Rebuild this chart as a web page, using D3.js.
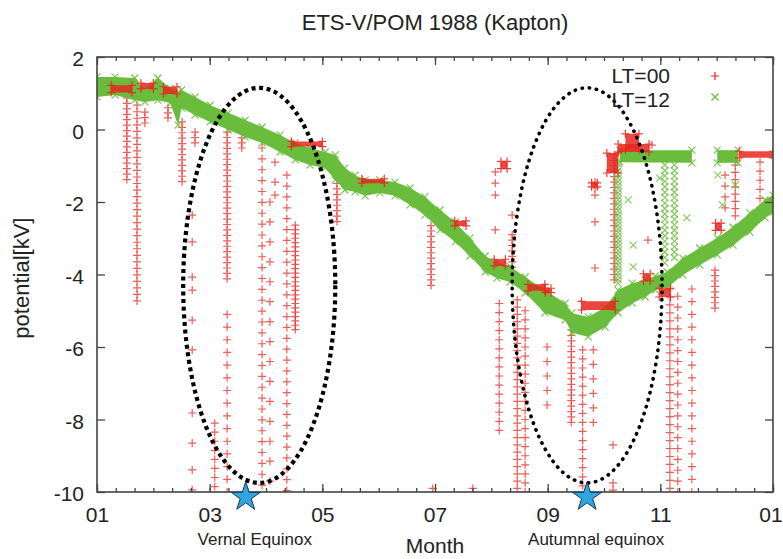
<!DOCTYPE html>
<html>
<head>
<meta charset="utf-8">
<script src="https://cdn.jsdelivr.net/npm/d3@7"></script>
<style>
body { margin: 0; background: #fff; }
svg { display: block; font-family: "Liberation Sans", Arial, sans-serif; }
</style>
</head>
<body>
<div id="plot"></div>
<script>
// Axis ticks and labels.
const monthTicks = [0, 2, 4, 6, 8, 10, 12];
const monthLabels = ["01", "03", "05", "07", "09", "11", "01"];
const potentialTicks = [2, 0, -2, -4, -6, -8, -10];

// LT=12 main band: [month, upper kV, lower kV].
const noonBand = [
    [0.00, 1.45, 0.90], [0.32, 1.45, 0.95], [0.67, 1.42, 0.81], [0.85, 1.09, 0.76],
    [1.08, 1.42, 0.81], [1.30, 1.14, 0.73], [1.44, 1.03, 0.12], [1.50, 1.09, 0.59],
    [1.74, 0.90, 0.40], [2.01, 0.67, 0.21], [2.33, 0.46, -0.01], [2.63, 0.26, -0.21],
    [2.93, 0.07, -0.37], [3.25, -0.15, -0.62], [3.52, -0.37, -0.84], [3.78, -0.51, -0.98],
    [4.05, -0.62, -1.06], [4.23, -0.70, -1.39], [4.40, -1.06, -1.67], [4.58, -1.26, -1.72],
    [4.76, -1.39, -1.83], [5.02, -1.39, -1.75], [5.29, -1.45, -1.83], [5.56, -1.61, -2.08],
    [5.82, -1.86, -2.36], [6.09, -2.22, -2.77], [6.36, -2.55, -3.10], [6.62, -2.99, -3.49],
    [6.89, -3.49, -3.93], [7.10, -3.66, -4.10], [7.33, -3.77, -4.21], [7.60, -4.07, -4.51],
    [7.95, -4.43, -5.06], [8.31, -4.79, -5.26], [8.43, -5.06, -5.61], [8.72, -5.17, -5.72],
    [9.02, -4.90, -5.45], [9.25, -4.43, -5.06], [9.50, -4.24, -4.79], [9.73, -4.15, -4.62],
    [9.91, -4.04, -4.43], [10.12, -3.93, -4.37], [10.40, -3.55, -4.01], [10.70, -3.27, -3.74],
    [11.01, -2.99, -3.46], [11.29, -2.69, -3.19], [11.59, -2.30, -2.83], [11.86, -1.94, -2.44],
    [12.00, -1.81, -2.28]
];

// LT=12 upper branches in Oct / Nov.
const noonUpperOct = [[9.28, -0.57, -0.90], [10.56, -0.57, -0.92]];
const noonUpperNov = [[11.01, -0.57, -0.92], [11.38, -0.57, -0.92]];

// LT=12 vertical runs: [month, top kV, bottom kV, sample gap kV].
const noonColumns = [
    [9.25, -0.84, -4.29, 0.10],
    [10.08, -0.98, -3.74, 0.15],
    [10.25, -0.98, -3.60, 0.15]
];

// LT=12 isolated samples: [month, kV].
const noonPoints = [
    [9.52, -3.19], [9.52, -3.79], [9.99, -1.34], [10.47, -2.44],
    [11.02, -1.26], [11.10, -2.08], [11.33, -1.53], [9.43, -1.94]
];

// LT=00 vertical runs: [month, top kV, bottom kV, sample gap kV].
const midnightColumns = [
    [0.53, 0.87, -1.48, 0.15], [0.71, 0.67, -4.80, 0.18], [0.85, 0.48, 0.05, 0.15],
    [1.26, 0.60, 0.32, 0.14], [1.51, 0.21, -1.45, 0.15], [1.74, -0.07, -0.51, 0.15],
    [2.09, -8.10, -10.0, 0.25], [2.31, -0.07, -4.20, 0.15], [2.31, -5.10, -10.0, 0.35],
    [2.57, -0.23, -0.51, 0.14], [2.93, -0.51, -10.0, 0.30], [3.07, -2.00, -10.0, 0.55],
    [3.37, -1.26, -10.0, 0.30], [3.52, -2.64, -5.60, 0.12], [4.26, -1.34, -2.62, 0.15],
    [5.93, -2.65, -4.36, 0.15], [7.37, -2.90, -3.82, 0.15], [7.14, -4.80, -8.30, 0.25],
    [7.46, -4.70, -10.0, 0.20], [7.60, -5.00, -10.0, 0.25], [7.99, -6.00, -7.93, 0.40],
    [8.42, -5.53, -8.10, 0.15], [8.62, -6.08, -10.0, 0.25], [8.81, -6.08, -8.40, 0.40],
    [9.18, -0.70, -4.20, 0.15], [10.17, -4.40, -10.0, 0.22], [10.31, -4.60, -10.0, 0.30],
    [10.56, -4.40, -10.0, 0.35], [10.97, -3.88, -5.06, 0.15], [11.33, -0.98, -2.55, 0.20],
    [11.15, -1.26, -2.40, 0.30], [11.77, -0.90, -2.28, 0.25]
];

// LT=00 isolated samples: [month, kV].
const midnightPoints = [
    [1.69, -2.36], [1.69, -3.10], [1.69, -4.07], [1.69, -4.43], [1.69, -5.26],
    [1.69, -6.08], [1.69, -7.82], [1.69, -8.65], [1.69, -9.39], [1.69, -9.94],
    [3.16, -0.90], [3.16, -1.45], [3.16, -1.81],
    [7.07, -1.17], [7.07, -1.48], [7.07, -1.81], [7.07, -2.77], [7.37, -2.36],
    [8.84, -1.45], [8.84, -1.61], [8.84, -1.81], [8.84, -2.55], [8.84, -3.82],
    [9.16, -8.70], [9.16, -9.75], [9.16, -9.95], [9.85, -0.43], [9.78, -3.05],
    [5.96, -9.90], [6.67, -9.90]
];

// LT=00 dense clusters showing over LT=12: [month from, month to, top kV, bottom kV].
const midnightPatches = [
    [0.25, 0.62, 1.22, 1.02], [0.78, 1.00, 1.28, 1.12], [1.18, 1.42, 1.18, 0.98],
    [3.45, 4.00, -0.33, -0.47], [4.70, 5.10, -1.36, -1.48], [6.35, 6.55, -2.52, -2.66],
    [7.05, 7.25, -3.58, -3.76], [7.17, 7.28, -0.88, -1.08], [7.65, 7.95, -4.27, -4.45],
    [8.60, 9.20, -4.74, -4.98], [7.96, 8.06, -4.38, -4.50], [9.70, 9.82, -3.98, -4.18],
    [9.98, 10.18, -4.38, -4.62], [9.38, 9.62, -0.12, -0.55], [9.25, 9.80, -0.40, -0.62],
    [9.05, 9.25, -0.65, -1.20], [11.40, 12.00, -0.60, -0.78], [10.98, 11.08, -2.58, -2.78],
    [8.78, 8.88, -1.47, -1.58]
];

// Equinox annotations: dates (month) and dotted ellipses around them.
const equinoxMonths = [2.64, 8.70];
const equinoxLabels = ["Vernal Equinox", "Autumnal equinox"];
const ellipseCentres = [[2.88, -4.30], [8.70, -4.30]];
const ellipseRadii = [[1.35, 5.45], [1.33, 5.45]];

// Canvas dimensions.
let width = 783, height = 559;
let margin = {top: 57, right: 10, bottom: 67, left: 97};
let red = "#e8261e", green = "#6abd3c", axisColor = "#444";
let fontFamily = "Liberation Sans, Arial, sans-serif";

let svg = d3.select("div#plot").append("svg")
    .attr("width", width).attr("height", height);

let x = d3.scaleLinear().domain([0, 12]).range([margin.left, width - margin.right]);
let y = d3.scaleLinear().domain([-10, 2]).range([height - margin.bottom, margin.top]);

svg.append("clipPath").attr("id", "clip")
    .append("rect")
    .attr("x", x(0)).attr("y", y(2))
    .attr("width", x(12) - x(0)).attr("height", y(-10) - y(2));

let plot = svg.append("g").attr("clip-path", "url(#clip)");

let plus = "M-4,0H4M0,-4V4";
let cross = "M-3.5,-3.5L3.5,3.5M-3.5,3.5L3.5,-3.5";

// Expands a vertical run into its samples.
function runSamples(cols) {
    let pts = [];
    cols.forEach(c => {
        for (let v = c[1]; v >= c[2] - 1e-6; v -= c[3]) pts.push([c[0], v]);
    });
    return pts;
}

function drawMarkers(g, pts, shape, color, opacity) {
    g.append("g").selectAll("path")
        .data(pts)
        .join("path")
            .attr("d", shape)
            .attr("transform", d => "translate(" + x(d[0]) + "," + y(d[1]) + ")")
            .style("stroke", color)
            .style("stroke-width", 1.2)
            .style("fill", "none")
            .style("opacity", opacity);
}

/* LT=00 runs first (gnuplot order) */
drawMarkers(plot, runSamples(midnightColumns), plus, red, 0.75);
drawMarkers(plot, midnightPoints, plus, red, 0.75);

/* LT=12 band and branches */
let band = d3.area()
    .x(d => x(d[0]))
    .y0(d => y(d[2]))
    .y1(d => y(d[1]));

[noonBand, noonUpperOct, noonUpperNov].forEach(rows => {
    plot.append("path")
        .attr("d", band(rows))
        .style("fill", green);
    drawMarkers(plot, rows.map(d => [d[0], d[1]]), cross, green, 0.9);
    drawMarkers(plot, rows.map(d => [d[0], d[2]]), cross, green, 0.9);
});

drawMarkers(plot, runSamples(noonColumns), cross, green, 0.8);
drawMarkers(plot, noonPoints, cross, green, 0.8);

/* LT=00 dense clusters: filled core with ragged plus-marker fringe */
plot.append("g").selectAll("rect")
    .data(midnightPatches)
    .join("rect")
        .attr("x", d => x(d[0]))
        .attr("y", d => y(d[2]))
        .attr("width", d => x(d[1]) - x(d[0]))
        .attr("height", d => y(d[3]) - y(d[2]))
        .attr("rx", 2)
        .style("fill", red)
        .style("opacity", 0.85);

let fringe = [];
midnightPatches.forEach(d => {
    fringe.push([d[0], d[2]], [d[1], d[2]], [d[0], d[3]], [d[1], d[3]]);
});
drawMarkers(plot, fringe, plus, red, 0.9);

/* Axes and frame */
let axes = svg.append("g");

axes.append("g")
    .attr("transform", "translate(" + x(0) + ",0)")
    .call(d3.axisLeft(y).tickValues(potentialTicks).tickSize(-8).tickPadding(13)
        .tickFormat(d => String(d)))
    .call(g => g.selectAll("text").attr("dy", "0.42em"));

axes.append("g")
    .attr("transform", "translate(" + x(12) + ",0)")
    .call(d3.axisRight(y).tickValues(potentialTicks).tickSize(-8).tickFormat(""));

// Note: the last "01" is pulled in a little so it stays inside the page.
axes.append("g")
    .attr("transform", "translate(0," + y(-10) + ")")
    .call(d3.axisBottom(x).tickValues(monthTicks).tickSize(-8).tickPadding(15)
        .tickFormat((d, i) => monthLabels[i]))
    .call(g => g.selectAll("text").filter(d => d === 12).attr("dx", "-0.12em"));

axes.append("g")
    .attr("transform", "translate(0," + y(2) + ")")
    .call(d3.axisTop(x).tickValues(monthTicks).tickSize(-8).tickFormat(""));

let minor = d3.range(37).map(i => i / 3);
axes.append("g")
    .attr("transform", "translate(0," + y(-10) + ")")
    .call(d3.axisBottom(x).tickValues(minor).tickSize(-4).tickFormat(""));
axes.append("g")
    .attr("transform", "translate(0," + y(2) + ")")
    .call(d3.axisTop(x).tickValues(minor).tickSize(-4).tickFormat(""));

axes.selectAll(".domain").remove();
axes.selectAll(".tick line").style("stroke", axisColor).style("stroke-width", 1.3);
axes.selectAll("text")
    .style("fill", "#222")
    .style("font-size", "21px")
    .style("font-family", fontFamily);

svg.append("rect")
    .attr("x", x(0)).attr("y", y(2))
    .attr("width", x(12) - x(0)).attr("height", y(-10) - y(2))
    .style("fill", "none")
    .style("stroke", axisColor)
    .style("stroke-width", 1.6);

/* Equinox ellipses and stars */
svg.append("g").selectAll("ellipse")
    .data(ellipseCentres)
    .join("ellipse")
        .attr("cx", d => x(d[0]))
        .attr("cy", d => y(d[1]))
        .attr("rx", (d, i) => x(d[0] + ellipseRadii[i][0]) - x(d[0]))
        .attr("ry", (d, i) => y(d[1] - ellipseRadii[i][1]) - y(d[1]))
        .style("fill", "none")
        .style("stroke", "#000")
        .style("stroke-width", (d, i) => i === 0 ? 4.2 : 3.6)
        .style("stroke-linecap", (d, i) => i === 0 ? "butt" : "round")
        .style("stroke-dasharray", (d, i) => i === 0 ? "4,3.6" : "0.4,6.8");

svg.append("g").selectAll("path")
    .data(equinoxMonths)
    .join("path")
        .attr("d", d3.symbol(d3.symbolStar, 260))
        .attr("transform", d => "translate(" + x(d) + "," + (y(-10) + 5) + ")")
        .style("fill", "#2ea6e0")
        .style("stroke", "#1b3550")
        .style("stroke-width", 1);

svg.append("g").selectAll("text")
    .data(equinoxMonths)
    .join("text")
        .attr("x", d => x(d) + 9)
        .attr("y", y(-10) + 53)
        .attr("text-anchor", "middle")
        .style("font-size", "17px")
        .style("fill", "#222")
        .text((d, i) => equinoxLabels[i]);

/* Titles */
svg.append("text")
    .attr("x", (x(0) + x(12)) / 2).attr("y", 30)
    .attr("text-anchor", "middle")
    .style("font-size", "22px").style("fill", "#222")
    .text("ETS-V/POM 1988 (Kapton)");

svg.append("text")
    .attr("x", (x(0) + x(12)) / 2).attr("y", 553)
    .attr("text-anchor", "middle")
    .style("font-size", "21px").style("fill", "#222")
    .text("Month");

svg.append("text")
    .attr("transform", "translate(29," + y(-4.1) + ") rotate(-90)")
    .attr("text-anchor", "middle")
    .style("font-size", "22px").style("fill", "#222")
    .text("potential[kV]");

/* Legend */
let legend = svg.append("g").style("font-size", "21px").style("fill", "#222");
[["LT=00", plus, red], ["LT=12", cross, green]].forEach((item, i) => {
    legend.append("text")
        .attr("x", 670).attr("y", 83 + i * 24)
        .attr("text-anchor", "end")
        .text(item[0]);
    legend.append("path")
        .attr("d", item[1])
        .attr("transform", "translate(715," + (76 + i * 21) + ")")
        .style("stroke", item[2]).style("stroke-width", 1.2).style("fill", "none");
});
</script>
</body>
</html>
